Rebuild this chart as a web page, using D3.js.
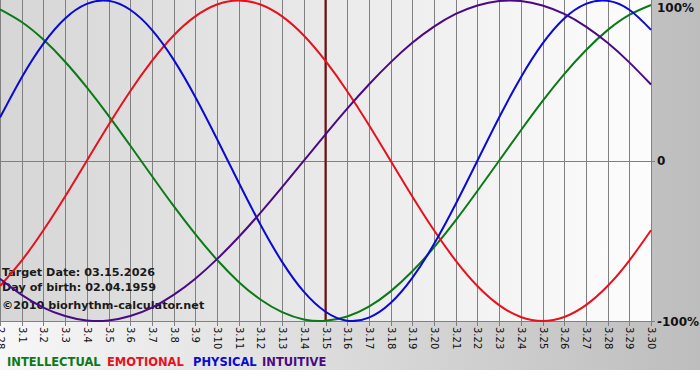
<!DOCTYPE html>
<html>
<head>
<meta charset="utf-8">
<script src="https://cdn.jsdelivr.net/npm/d3@7"></script>
<style>
  html, body { margin: 0; padding: 0; background: #ffffff; }
  svg { display: block; }
</style>
</head>
<body>
<script>
// ---- Data (one per day) ----
const dayLabels = ["2.28","3.1","3.2","3.3","3.4","3.5","3.6","3.7","3.8","3.9","3.10","3.11","3.12","3.13","3.14","3.15","3.16","3.17","3.18","3.19","3.20","3.21","3.22","3.23","3.24","3.25","3.26","3.27","3.28","3.29","3.30"];
const intellectual = [0.945,0.866,0.756,0.618,0.458,0.282,0.095,-0.095,-0.282,-0.458,-0.618,-0.756,-0.866,-0.945,-0.990,-0.999,-0.972,-0.910,-0.815,-0.690,-0.541,-0.372,-0.189,0.000,0.189,0.372,0.541,0.690,0.815,0.910,0.972];
const emotional = [-0.782,-0.623,-0.434,-0.223,0.000,0.223,0.434,0.623,0.782,0.901,0.975,1.000,0.975,0.901,0.782,0.623,0.434,0.223,0.000,-0.223,-0.434,-0.623,-0.782,-0.901,-0.975,-1.000,-0.975,-0.901,-0.782,-0.623,-0.434];
const physical = [0.270,0.520,0.731,0.888,0.979,0.998,0.942,0.817,0.631,0.398,0.136,-0.136,-0.398,-0.631,-0.817,-0.942,-0.998,-0.979,-0.888,-0.731,-0.520,-0.270,0.000,0.270,0.520,0.731,0.888,0.979,0.998,0.942,0.817];
const intuitive = [-0.736,-0.837,-0.916,-0.969,-0.997,-0.997,-0.969,-0.916,-0.837,-0.736,-0.614,-0.476,-0.325,-0.165,0.000,0.165,0.325,0.476,0.614,0.736,0.837,0.916,0.969,0.997,0.997,0.969,0.916,0.837,0.736,0.614,0.476];
const targetIndex = 15; // 3.15
const yTickValues = [1, 0, -1];
const yTickLabels = ["100%", "0", "-100%"];
const infoLines = ["Target Date: 03.15.2026", "Day of birth: 02.04.1959", "©2010 biorhythm-calculator.net"];
const seriesNames = ["INTELLECTUAL", "EMOTIONAL", "PHYSICAL", "INTUITIVE"];

// ---- Layout ----
const W = 700, H = 380;
const plotLeft = 0, plotRight = 651, plotTop = 0, plotBottom = 321;
const colors = { INTELLECTUAL: "#0b7a16", EMOTIONAL: "#e8101c", PHYSICAL: "#0a0ad2", INTUITIVE: "#4a0a86" };
const seriesData = { INTELLECTUAL: intellectual, EMOTIONAL: emotional, PHYSICAL: physical, INTUITIVE: intuitive };
const fontFam = "DejaVu Sans, Verdana, sans-serif";

const svg = d3.select("body").append("svg").attr("width", W).attr("height", H);
const defs = svg.append("defs");
const gOuter = defs.append("linearGradient").attr("id", "outerGrad").attr("x1", "0").attr("x2", "1").attr("y1", "0").attr("y2", "0");
gOuter.append("stop").attr("offset", "0").attr("stop-color", "#f7f7f7");
gOuter.append("stop").attr("offset", "1").attr("stop-color", "#bdbdbd");
const gPlot = defs.append("linearGradient").attr("id", "plotGrad").attr("x1", "0").attr("x2", "1").attr("y1", "0").attr("y2", "0");
gPlot.append("stop").attr("offset", "0").attr("stop-color", "#d6d6d6");
gPlot.append("stop").attr("offset", "1").attr("stop-color", "#fdfdfd");
defs.append("clipPath").attr("id", "plotClip").append("rect")
  .attr("x", plotLeft).attr("y", plotTop).attr("width", plotRight - plotLeft + 1).attr("height", plotBottom - plotTop + 1);

svg.append("rect").attr("x", 0).attr("y", 0).attr("width", W).attr("height", 370).attr("fill", "url(#outerGrad)");
svg.append("rect").attr("x", plotLeft).attr("y", plotTop).attr("width", plotRight - plotLeft).attr("height", plotBottom - plotTop).attr("fill", "url(#plotGrad)");

const x = d3.scaleLinear().domain([0, dayLabels.length - 1]).range([plotLeft, plotRight]);
const y = d3.scaleLinear().domain([-1, 1]).range([plotBottom, plotTop + 0.5]);

// vertical grid lines + ticks
svg.append("g").selectAll("line").data(dayLabels).join("line")
  .attr("x1", (d, i) => Math.round(x(i)) + 0.5).attr("x2", (d, i) => Math.round(x(i)) + 0.5)
  .attr("y1", plotTop).attr("y2", plotBottom + 5)
  .attr("stroke", "#808080").attr("stroke-width", 1);

// horizontal lines: zero and bottom
svg.append("line").attr("x1", plotLeft).attr("x2", plotRight + 4).attr("y1", Math.round(y(0)) + 0.5).attr("y2", Math.round(y(0)) + 0.5)
  .attr("stroke", "#808080").attr("stroke-width", 1);
svg.append("line").attr("x1", plotLeft).attr("x2", plotRight + 4).attr("y1", plotBottom + 0.5).attr("y2", plotBottom + 0.5)
  .attr("stroke", "#808080").attr("stroke-width", 1);

// x labels (rotated)
svg.append("g").selectAll("text").data(dayLabels).join("text")
  .attr("transform", (d, i) => `translate(${Math.round(x(i)) + 0.5},${plotBottom + 6}) rotate(90)`)
  .attr("dy", "0.35em")
  .attr("text-anchor", "start")
  .attr("font-family", fontFam)
  .attr("font-size", 10)
  .attr("fill", "#111")
  .text(d => d);

// y labels on right
const yLabelOffset = [7, 0, 0];
svg.append("g").selectAll("text").data(yTickValues).join("text")
  .attr("x", plotRight + 6).attr("y", (d, i) => y(d) + yLabelOffset[i])
  .attr("dy", "0.38em")
  .attr("font-family", fontFam)
  .attr("font-weight", "bold")
  .attr("font-size", 12)
  .attr("fill", "#111")
  .text((d, i) => yTickLabels[i]);

// info text
svg.append("g").selectAll("text").data(infoLines).join("text")
  .attr("x", 2).attr("y", (d, i) => [276, 291, 309][i])
  .attr("font-family", fontFam)
  .attr("font-weight", "bold")
  .attr("font-size", 11.2)
  .attr("fill", "#1a1a1a")
  .text(d => d);

// target date line
svg.append("line")
  .attr("x1", x(targetIndex)).attr("x2", x(targetIndex))
  .attr("y1", plotTop).attr("y2", plotBottom)
  .attr("stroke", "#7a0a0a").attr("stroke-width", 2);

// curves
const line = d3.line().x((d, i) => x(i)).y(d => y(d)).curve(d3.curveNatural);
const curves = svg.append("g").attr("clip-path", "url(#plotClip)");
seriesNames.forEach(name => {
  curves.append("path").datum(seriesData[name])
    .attr("d", line)
    .attr("fill", "none")
    .attr("stroke", colors[name])
    .attr("stroke-width", 2);
});

// legend
const legendX = [7, 107, 193, 262];
svg.append("g").selectAll("text").data(seriesNames).join("text")
  .attr("x", (d, i) => legendX[i]).attr("y", 366)
  .attr("font-family", fontFam)
  .attr("font-weight", "bold")
  .attr("font-size", 11.5)
  .attr("fill", d => colors[d])
  .text(d => d);
</script>
</body>
</html>
